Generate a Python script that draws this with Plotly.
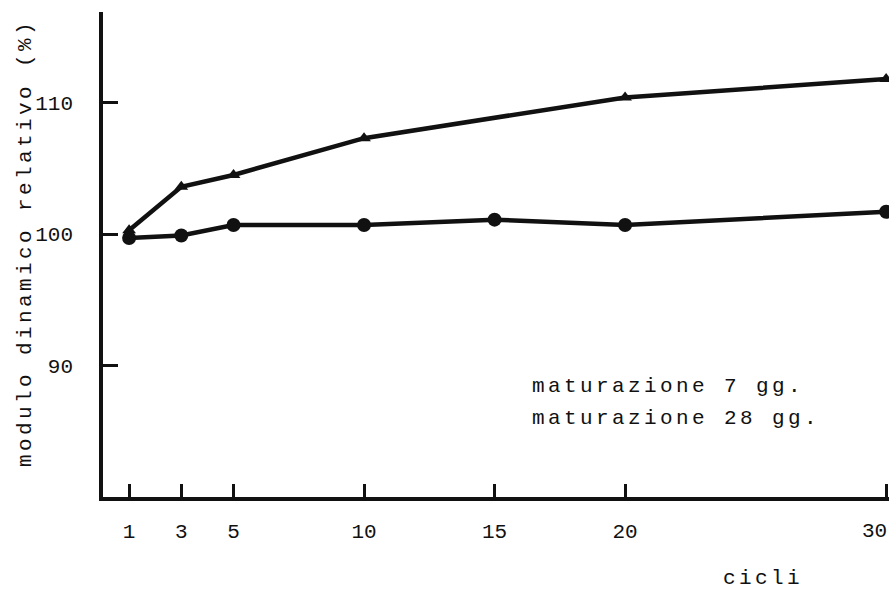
import plotly.graph_objects as go

# Freeze–thaw cycles and relative dynamic modulus (%) for the two curing times
cycles_7 = [1, 3, 5, 10, 20, 30]
modulus_7 = [100.3, 103.6, 104.5, 107.3, 110.4, 111.8]

cycles_28 = [1, 3, 5, 10, 15, 20, 30]
modulus_28 = [99.7, 99.9, 100.7, 100.7, 101.1, 100.7, 101.7]

series_names = ["maturazione 7 gg.", "maturazione 28 gg."]
x_ticks = [1, 3, 5, 10, 15, 20, 30]
y_ticks = [90, 100, 110]

INK = "#111111"
FONT = "Liberation Mono"


def spaced(text, gap=3.4):
    return f'<span style="letter-spacing:{gap}px">{text}</span>'


fig = go.Figure()
fig.add_trace(go.Scatter(
    x=cycles_7, y=modulus_7, mode="lines+markers", name=series_names[0],
    line=dict(color=INK, width=4.5),
    marker=dict(symbol="triangle-up", size=12, color=INK),
    cliponaxis=False, showlegend=False,
))
fig.add_trace(go.Scatter(
    x=cycles_28, y=modulus_28, mode="lines+markers", name=series_names[1],
    line=dict(color=INK, width=4.5),
    marker=dict(symbol="circle", size=14, color=INK),
    cliponaxis=False, showlegend=False,
))

# series labels, typed as a plain block of text inside the plot
for i, name in enumerate(series_names):
    fig.add_annotation(
        xref="paper", yref="paper", x=(530 - 103) / 786, y=1 - (386 + 32 * i - 12) / 485,
        text=spaced(name), showarrow=False, xanchor="left", yanchor="middle",
        font=dict(family=FONT, size=21, color=INK),
    )

# axis titles
fig.add_annotation(
    xref="paper", yref="paper", x=(25 - 103) / 786, y=1 - (243 - 12) / 485,
    text=spaced("modulo dinamico relativo (%)"), textangle=-90, showarrow=False,
    xanchor="center", yanchor="middle",
    font=dict(family=FONT, size=21, color=INK),
)
fig.add_annotation(
    xref="paper", yref="paper", x=(763 - 103) / 786, y=1 - (578 - 12) / 485,
    text=spaced("cicli"), showarrow=False, xanchor="center", yanchor="middle",
    font=dict(family=FONT, size=21, color=INK),
)

# the last cycle label sits flush with the right edge of the page
fig.add_annotation(
    xref="x", yref="paper", x=x_ticks[-1], y=1 - (531 - 12) / 485,
    text=str(x_ticks[-1]), showarrow=False, xanchor="right", yanchor="middle",
    xshift=3, font=dict(family=FONT, size=21, color=INK),
)

fig.update_xaxes(
    range=[0, 30.11], tickvals=x_ticks,
    ticktext=[str(v) for v in x_ticks[:-1]] + [""],
    ticks="inside", ticklen=13, tickwidth=3, tickcolor=INK,
    showline=True, linewidth=3.5, linecolor=INK, showgrid=False, zeroline=False,
    tickfont=dict(family=FONT, size=21, color=INK), ticklabelstandoff=12,
)
fig.update_yaxes(
    range=[80, 116.9], tickvals=y_ticks, ticktext=[str(v) for v in y_ticks],
    ticks="inside", ticklen=15, tickwidth=3, tickcolor=INK,
    showline=True, linewidth=3.5, linecolor=INK, showgrid=False, zeroline=False,
    tickfont=dict(family=FONT, size=21, color=INK), ticklabelstandoff=22,
)

fig.update_layout(
    width=889, height=592,
    margin=dict(l=103, r=0, t=12, b=95, autoexpand=False),
    plot_bgcolor="white", paper_bgcolor="white",
    font=dict(family=FONT, color=INK),
)

fig.write_html("out.html")
